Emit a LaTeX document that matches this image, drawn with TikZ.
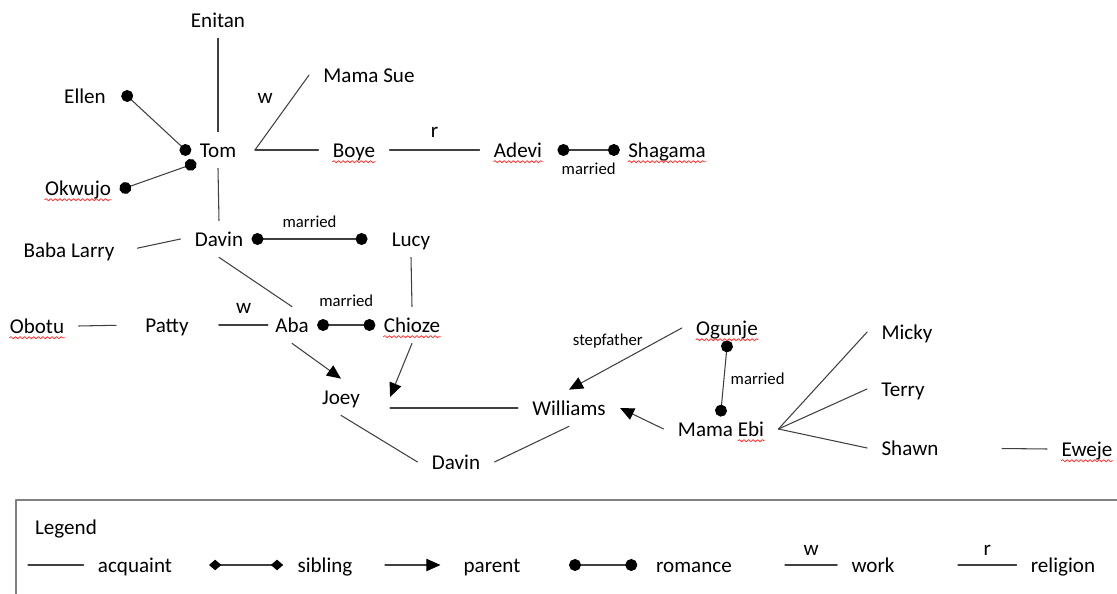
\documentclass[tikz,border=0pt]{standalone}
\usepackage{fontspec}
\setmainfont{Carlito}
\usetikzlibrary{arrows.meta,decorations.pathmorphing}
\begin{document}
\begin{tikzpicture}[x=0.02cm,y=-0.02cm, line join=round, line cap=round,
    person/.style={inner xsep=8pt,inner ysep=5pt,text height=9.7pt,text depth=.8pt,font=\fontsize{12}{14}\selectfont},
    lbl/.style={inner sep=2pt,font=\fontsize{12}{14}\selectfont},
    tag/.style={inner sep=1pt,font=\fontsize{9.5}{11}\selectfont},
    acq/.style={draw=black!75,line width=.6pt},
    romance/.style={acq,{Circle[length=6.8pt,black]}-{Circle[length=6.8pt,black]},shorten <=-3.4pt,shorten >=-3.4pt},
    parent/.style={acq,-{Triangle[length=8pt,width=7pt,black]}},
    sibling/.style={acq,{Diamond[length=7pt,width=6pt,black]}-{Diamond[length=7pt,width=6pt,black]}},
    spell/.style={draw=red!80,line width=.45pt,decorate,decoration={snake,amplitude=.6pt,segment length=2.6pt}}]
    \useasboundingbox (0,0) rectangle (1117,594);
    % people
    \node[person] (enitan) at (218,20) {Enitan};
    \node[person] (ellen) at (85,96) {Ellen};
    \node[person] (tom) at (218,150) {Tom};
    \node[person] (okwujo) at (78,188) {Okwujo};
    \node[person] (mamasue) at (369,75) {Mama Sue};
    \node[person] (boye) at (354,150) {Boye};
    \node[person] (adevi) at (518,150) {Adevi};
    \node[person] (shagama) at (667,150) {Shagama};
    \node[person] (davin) at (219,239) {Davin};
    \node[person] (lucy) at (411,239) {Lucy};
    \node[person] (babalarry) at (69,250) {Baba Larry};
    \node[person] (obotu) at (37,326) {Obotu};
    \node[person] (patty) at (167,325) {Patty};
    \node[person] (aba) at (292,325) {Aba};
    \node[person] (chioze) at (412,325) {Chioze};
    \node[person] (joey) at (341,397) {Joey};
    \node[person] (williams) at (569,408) {Williams};
    \node[person] (davinb) at (456,462) {Davin};
    \node[person] (ogunje) at (727,328) {Ogunje};
    \node[person] (mamaebi) at (721,429) {Mama Ebi};
    \node[person] (micky) at (907,332) {Micky};
    \node[person] (terry) at (903,389) {Terry};
    \node[person] (shawn) at (910,448) {Shawn};
    \node[person] (eweje) at (1087,449) {Eweje};
    % relations
    \draw[acq] (enitan.south) -- (tom.north);
    \draw[acq] (tom.south) -- (davin.north);
    \coordinate (tomr) at ([xshift=2.5pt]tom.east);
    \draw[acq] (tomr) -- (mamasue.west) node[midway,above left=3pt,lbl] {w};
    \draw[acq] (tomr) -- (boye.west);
    \draw[acq] (boye.east) -- (adevi.west) node[midway,above=5pt,lbl] {r};
    \draw[romance] ([xshift=4pt]adevi.east) -- (shagama.west) node[midway,below=6pt,tag] {married};
    \draw[romance] ([xshift=4pt]ellen.east) -- (tom.west);
    \draw[romance] (okwujo.east) -- ([xshift=3pt,yshift=2pt]tom.south west);
    \draw[acq,shorten <=5pt] (babalarry.east) -- (davin.west);
    \draw[romance] (davin.east) -- ([xshift=-9pt]lucy.west) node[midway,above=5pt,tag] {married};
    \draw[acq] (davin.south) -- (aba.north);
    \draw[acq] (lucy.south) -- (chioze.north);
    \draw[acq,shorten >=8.5pt] (obotu.east) -- (patty.west);
    \draw[acq,shorten <=9pt,shorten >=-4pt] (patty.east) -- (aba.west) node[pos=.7,above=4.5pt,lbl] {w};
    \draw[romance] (aba.east) -- (chioze.west) node[midway,above=9pt,tag] {married};
    \draw[parent] (aba.south) -- (joey.north);
    \draw[parent] (chioze.south) -- ([xshift=9pt]joey.east);
    \draw[acq,shorten <=9pt] (joey.east |- williams.west) -- (williams.west);
    \draw[acq] (joey.south) -- (davinb.west);
    \draw[acq] (williams.south) -- (davinb.east);
    \draw[parent] (ogunje.west) -- (williams.north) node[midway,above=4.5pt,xshift=-10pt,tag] {stepfather};
    \draw[parent] (mamaebi.west) -- (williams.east);
    \draw[romance] (ogunje.south) -- (mamaebi.north) node[midway,right=2.5pt,tag] {married};
    \foreach \k in {micky,terry,shawn}
        \draw[acq] (mamaebi.east) -- (\k.west);
    \draw[acq,shorten <=28pt] (shawn.east) -- (eweje.west);
    % spell-check marks
    \foreach \n in {okwujo,boye,adevi,shagama,obotu,chioze,ogunje,eweje}
        \draw[spell] ([xshift=8pt,yshift=-2.2pt]\n.base west) -- ([xshift=-8pt,yshift=-2.2pt]\n.base east);
    \draw[spell] ([xshift=-23pt,yshift=-2.2pt]mamaebi.base east) -- ([xshift=-8pt,yshift=-2.2pt]mamaebi.base east);
    % legend
    \draw[draw=black!50,line width=.8pt] (1130,500) -- (16,500) -- (16,610);
    \node[person] (legend) at (66,527) {Legend};
    \node[person] (acquaint) at (135,565) {acquaint};
    \node[person] (sibling) at (325,565) {sibling};
    \node[person] (parentl) at (492,565) {parent};
    \node[person] (romancel) at (694,565) {romance};
    \node[person] (work) at (873,565) {work};
    \node[person] (religion) at (1063,565) {religion};
    \coordinate (la) at (28,565);
    \coordinate (ls) at (209,565);
    \coordinate (lp) at (385,565);
    \coordinate (lr) at (575,565);
    \coordinate (lw) at (785,565);
    \coordinate (lrel) at (958,565);
    \draw[acq] (la) -- (acquaint.west);
    \draw[sibling] (ls) -- (sibling.west);
    \draw[parent,shorten >=5pt] (lp) -- (parentl.west);
    \draw[romance] (lr) -- ([xshift=-6pt]romancel.west);
    \draw[acq] (lw) -- (work.west) node[midway,above=3pt,lbl] {w};
    \draw[acq] (lrel) -- (religion.west) node[midway,above=3pt,lbl] {r};
\end{tikzpicture}
\end{document}
